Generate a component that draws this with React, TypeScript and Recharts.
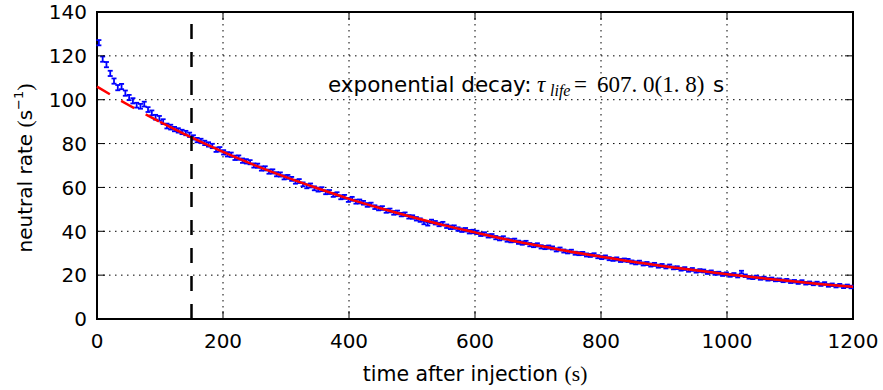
import React from "react";
import {
  ComposedChart,
  Scatter,
  Line,
  XAxis,
  YAxis,
  CartesianGrid,
  ErrorBar,
  ReferenceLine,
  ReferenceArea,
} from "recharts";

// binned neutral rate, one value per 6 s bin starting at 3 s
const BIN_START = 3;
const BIN_WIDTH = 6;
const RATE = [
  126.0, 118.5, 116.0, 112.0, 108.5, 105.5, 106.0, 103.0, 101.0, 99.5,
  97.5, 97.0, 98.0, 95.5, 94.0, 92.0, 91.5, 90.0, 88.0, 87.5,
  86.6, 86.0, 85.3, 84.8, 84.0, 82.8, 81.6, 81.2, 80.3, 79.6,
  78.9, 77.2, 77.4, 76.0, 75.1, 74.9, 73.5, 73.6, 72.2, 71.9,
  71.5, 70.0, 69.9, 68.6, 68.7, 67.2, 67.3, 66.0, 65.9, 64.6,
  64.8, 63.9, 62.6, 62.9, 61.4, 60.5, 60.9, 59.6, 59.0, 59.2,
  57.8, 57.9, 56.6, 56.9, 55.5, 55.7, 54.3, 54.8, 53.5, 53.6,
  53.0, 52.0, 52.2, 51.0, 50.4, 50.6, 49.3, 49.5, 48.4, 48.6,
  47.6, 47.8, 46.6, 46.5, 45.7, 45.1, 44.0, 43.4, 44.5, 43.9,
  43.1, 43.5, 42.3, 41.8, 41.9, 41.0, 40.5, 40.7, 39.8, 39.9,
  39.5, 38.6, 38.8, 37.9, 38.0, 37.1, 36.6, 37.0, 36.0, 35.7,
  35.9, 35.0, 34.6, 34.9, 33.9, 33.5, 33.8, 32.9, 32.6, 32.8,
  32.4, 31.5, 31.9, 31.0, 30.6, 30.9, 30.0, 29.8, 29.9, 29.2,
  29.0, 29.3, 28.4, 28.0, 28.3, 27.5, 27.2, 27.4, 26.7, 26.9,
  26.7, 26.0, 25.6, 25.9, 25.1, 25.3, 24.6, 24.9, 24.1, 24.4,
  23.7, 24.2, 23.3, 23.4, 22.7, 23.0, 22.2, 22.6, 21.8, 22.1,
  21.9, 21.2, 21.5, 20.8, 20.9, 20.3, 20.6, 19.9, 20.3, 19.6,
  21.4, 19.7, 19.0, 18.8, 19.2, 18.5, 18.7, 18.1, 18.3, 17.8,
  17.9, 17.4, 17.7, 17.0, 17.2, 16.6, 17.1, 16.3, 16.5, 16.0,
  16.4, 15.7, 16.2, 15.3, 15.6, 15.0, 15.4, 14.7, 15.1, 14.6,
];
// error bar half height, one value per 10 bins
const ERR_BY_BLOCK = [
  1.2, 1.1, 1.0, 1.0, 0.95, 0.9, 0.9, 0.85, 0.8, 0.8,
  0.75, 0.75, 0.7, 0.7, 0.7, 0.65, 0.65, 0.6, 0.6, 0.6,
];

// exponential fit
const FIT_EXTRAP_T = [0, 25, 50, 75, 100];
const FIT_EXTRAP_V = [106.0, 101.7, 97.6, 93.7, 89.9];
const FIT_T = [
  100, 150, 200, 250, 300, 350, 400, 450, 500, 550, 600, 650,
  700, 750, 800, 850, 900, 950, 1000, 1050, 1100, 1150, 1200,
];
const FIT_V = [
  89.9, 82.8, 76.2, 70.2, 64.7, 59.6, 54.8, 50.5, 46.5, 42.8, 39.5, 36.3,
  33.5, 30.8, 28.4, 26.1, 24.1, 22.2, 20.4, 18.8, 17.3, 15.9, 14.7,
];

const CUT_TIME = 150;
const X_TICKS = [0, 200, 400, 600, 800, 1000, 1200];
const Y_TICKS = [0, 20, 40, 60, 80, 100, 120, 140];

const points = RATE.map((v, i) => ({
  t: BIN_START + i * BIN_WIDTH,
  v,
  err: ERR_BY_BLOCK[Math.floor(i / 10)],
}));
const fitExtrap = FIT_EXTRAP_T.map((t, i) => ({ t, v: FIT_EXTRAP_V[i] }));
const fitMain = FIT_T.map((t, i) => ({ t, v: FIT_V[i] }));

const W = 883;
const H = 390;
const LEFT = 97;
const RIGHT = 853;
const TOP = 12;
const BOTTOM = 319;
const TICK_LEN = 8;
const FONT = "'DejaVu Sans', sans-serif";
const MATH = "'Liberation Serif', 'DejaVu Serif', serif";

function XTick({ x, payload }: any) {
  return (
    <g>
      <line x1={x} x2={x} y1={BOTTOM} y2={BOTTOM - TICK_LEN} stroke="#000" strokeWidth={1} />
      <line x1={x} x2={x} y1={TOP} y2={TOP + TICK_LEN} stroke="#000" strokeWidth={1} />
      <text x={x} y={BOTTOM + 29} textAnchor="middle" fontSize={20} fontFamily={FONT} fill="#000">
        {payload.value}
      </text>
    </g>
  );
}

function YTick({ y, payload }: any) {
  return (
    <g>
      <line x1={LEFT} x2={LEFT + TICK_LEN} y1={y} y2={y} stroke="#000" strokeWidth={1} />
      <line x1={RIGHT} x2={RIGHT - TICK_LEN} y1={y} y2={y} stroke="#000" strokeWidth={1} />
      <text x={LEFT - 10} y={y + 7.3} textAnchor="end" fontSize={20} fontFamily={FONT} fill="#000">
        {payload.value}
      </text>
    </g>
  );
}

export default function App() {
  const yMid = 168;
  return (
    <div style={{ position: "absolute", left: 0, top: 0, width: W, height: H, background: "#fff" }}>
      <ComposedChart width={W} height={H} margin={{ top: TOP, right: W - RIGHT, bottom: 0, left: 0 }}>
        <CartesianGrid stroke="#000" strokeWidth={1} strokeDasharray="1.5 4.5" />
        <XAxis
          type="number"
          dataKey="t"
          domain={[0, 1200]}
          ticks={X_TICKS}
          interval={0}
          height={H - BOTTOM}
          axisLine={false}
          tickLine={false}
          tick={<XTick />}
        />
        <YAxis
          type="number"
          dataKey="v"
          domain={[0, 140]}
          ticks={Y_TICKS}
          interval={0}
          width={LEFT}
          axisLine={false}
          tickLine={false}
          tick={<YTick />}
          allowDataOverflow
        />
        <Scatter data={points} shape={() => <g />} isAnimationActive={false}>
          <ErrorBar dataKey="err" direction="y" width={2.5} stroke="#0000ff" strokeWidth={1.8} isAnimationActive={false} />
        </Scatter>
        <Line
          data={fitExtrap}
          dataKey="v"
          type="monotone"
          stroke="#ff0000"
          strokeWidth={2.5}
          strokeDasharray="15 13"
          dot={false}
          activeDot={false}
          isAnimationActive={false}
        />
        <Line
          data={fitMain}
          dataKey="v"
          type="monotone"
          stroke="#ff0000"
          strokeWidth={2.5}
          dot={false}
          activeDot={false}
          isAnimationActive={false}
        />
        <ReferenceLine x={CUT_TIME} stroke="#000" strokeWidth={2.5} strokeDasharray="15 13" />
        <ReferenceArea x1={0} x2={1200} y1={0} y2={140} fill="none" stroke="#000" strokeWidth={2} ifOverflow="visible" />
        <text y={92} fontSize={21.5} fontFamily={FONT} fill="#000">
          <tspan x={328}>exponential decay:</tspan>
          <tspan x={537} fontFamily={MATH} fontStyle="italic" fontSize={23}>τ</tspan>
          <tspan x={550} fontFamily={MATH} fontStyle="italic" fontSize={16} dy={4}>life</tspan>
          <tspan x={574} fontFamily={MATH} fontSize={23} dy={-4}>=</tspan>
          <tspan x={597} fontFamily={MATH} fontSize={23}>607. 0(1. 8)</tspan>
          <tspan x={713}>s</tspan>
        </text>
        <text x={(LEFT + RIGHT) / 2} y={381} textAnchor="middle" fontSize={20.5} fontFamily={FONT} fill="#000">
          time after injection <tspan fontFamily={MATH} fontSize={21.5}>(s)</tspan>
        </text>
        <text
          x={32}
          y={yMid}
          textAnchor="middle"
          fontSize={20}
          fontFamily={FONT}
          fill="#000"
          transform={`rotate(-90 32 ${yMid})`}
        >
          neutral rate <tspan fontFamily={MATH} fontSize={21.5}>(</tspan>s
          <tspan fontSize={13} dy={-9}>−1</tspan>
          <tspan fontFamily={MATH} fontSize={21.5} dy={9}>)</tspan>
        </text>
      </ComposedChart>
    </div>
  );
}
